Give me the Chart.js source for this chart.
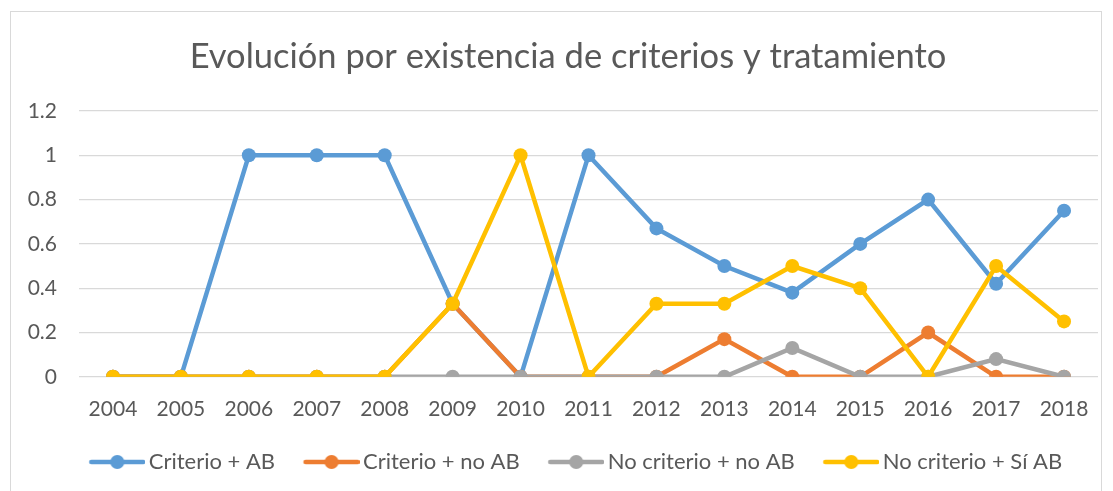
<!DOCTYPE html>
<html>
<head>
<meta charset="utf-8">
<script src="https://cdn.jsdelivr.net/npm/chart.js@4"></script>
<style>
  html, body { margin: 0; padding: 0; background: #fff; }
  #wrap { position: relative; width: 1113px; height: 491px; overflow: hidden; }
  #frame { position: absolute; left: 10px; top: 11px; width: 1092px; height: 500px; border: 1px solid #D9D9D9; box-sizing: border-box; }
  canvas { position: absolute; left: 0; top: 0; }
</style>
</head>
<body>
<div id="wrap">
  <div id="frame"></div>
  <canvas id="c" width="1113" height="491"></canvas>
</div>
<script>
const titleText = "Evolución por existencia de criterios y tratamiento";
const years = ["2004","2005","2006","2007","2008","2009","2010","2011","2012","2013","2014","2015","2016","2017","2018"];
const seriesNames = ["Criterio + AB", "Criterio + no AB", "No criterio + no AB", "No criterio + Sí AB"];
const criterioAB     = [0, 0, 1, 1, 1, 0.33, 0, 1, 0.67, 0.5, 0.38, 0.6, 0.8, 0.42, 0.75];
const criterioNoAB   = [0, 0, 0, 0, 0, 0.33, 0, 0, 0, 0.17, 0, 0, 0.2, 0, 0];
const noCriterioNoAB = [0, 0, 0, 0, 0, 0, 0, 0, 0, 0, 0.13, 0, 0, 0.08, 0];
const noCriterioSiAB = [0, 0, 0, 0, 0, 0.33, 1, 0, 0.33, 0.33, 0.5, 0.4, 0, 0.5, 0.25];
const yTicks = [0, 0.2, 0.4, 0.6, 0.8, 1, 1.2];

const colors = ["#5B9BD5", "#ED7D31", "#A5A5A5", "#FFC000"];
const values = [criterioAB, criterioNoAB, noCriterioNoAB, noCriterioSiAB];
const FONT = "Lato";
const TXT = "#595959";
const fmtY = (v) => String(Number(Number(v).toFixed(1)));

// widest y label, used to right-align mirrored labels outside the (narrowed) axis box
const mctx = document.createElement("canvas").getContext("2d");
mctx.font = "normal 21px " + FONT;
const widestY = Math.max(...yTicks.map(v => mctx.measureText(fmtY(v)).width));

const SYM_BOX = 64, SYM_IMG = 79;
function legendSymbol(color) {
  const c = document.createElement("canvas");
  c.width = SYM_IMG; c.height = 16;
  const g = c.getContext("2d");
  const x0 = SYM_IMG - 56;
  g.strokeStyle = color; g.lineWidth = 4.5; g.lineCap = "round";
  g.beginPath(); g.moveTo(x0 + 2, 8); g.lineTo(x0 + 54, 8); g.stroke();
  g.fillStyle = color;
  g.beginPath(); g.arc(x0 + 28, 8, 7, 0, Math.PI * 2); g.fill();
  return c;
}
const symbols = colors.map(legendSymbol);

const datasets = seriesNames.map((name, i) => ({
  label: name,
  data: values[i],
  borderColor: colors[i],
  backgroundColor: colors[i],
  borderWidth: 4.5,
  pointRadius: 7,
  pointHoverRadius: 7,
  pointBorderWidth: 0,
  pointBackgroundColor: colors[i],
  tension: 0,
  order: 4 - i
}));

new Chart(document.getElementById("c"), {
  type: "line",
  data: { labels: years, datasets: datasets },
  options: {
    responsive: false,
    animation: false,
    events: [],
    layout: { padding: { left: 38, right: 15, top: 0, bottom: 8 } },
    plugins: {
      title: {
        display: true,
        text: titleText,
        color: TXT,
        font: { family: FONT, size: 34.5, weight: "normal" },
        padding: { top: 36.3, bottom: 33.3 }
      },
      legend: {
        position: "bottom",
        labels: {
          color: TXT,
          font: { family: FONT, size: 22 },
          usePointStyle: true,
          pointStyleWidth: SYM_BOX,
          padding: 13,
          generateLabels: (chart) => chart.data.datasets.map((ds, i) => ({
            text: ds.label,
            pointStyle: symbols[i],
            fillStyle: colors[i],
            strokeStyle: colors[i],
            lineWidth: 0,
            hidden: false,
            datasetIndex: i,
            fontColor: TXT
          }))
        }
      },
      tooltip: { enabled: false }
    },
    scales: {
      x: {
        offset: true,
        grid: { display: false, drawTicks: false },
        border: { display: false },
        ticks: { color: TXT, font: { family: FONT, size: 21 }, padding: 20, maxRotation: 0 },
        afterFit: (s) => { s.height -= 4; }
      },
      y: {
        min: 0, max: 1.2,
        afterBuildTicks: (s) => { s.ticks = yTicks.map(v => ({ value: v })); },
        grid: { color: "#D9D9D9", lineWidth: 1.3, drawTicks: false },
        border: { display: false },
        ticks: {
          color: TXT, font: { family: FONT, size: 21 },
          mirror: true, crossAlign: "far", padding: -22 - widestY,
          callback: (v) => fmtY(v)
        },
        afterFit: (s) => { s.width = 41; }
      }
    }
  }
});
</script>
</body>
</html>
